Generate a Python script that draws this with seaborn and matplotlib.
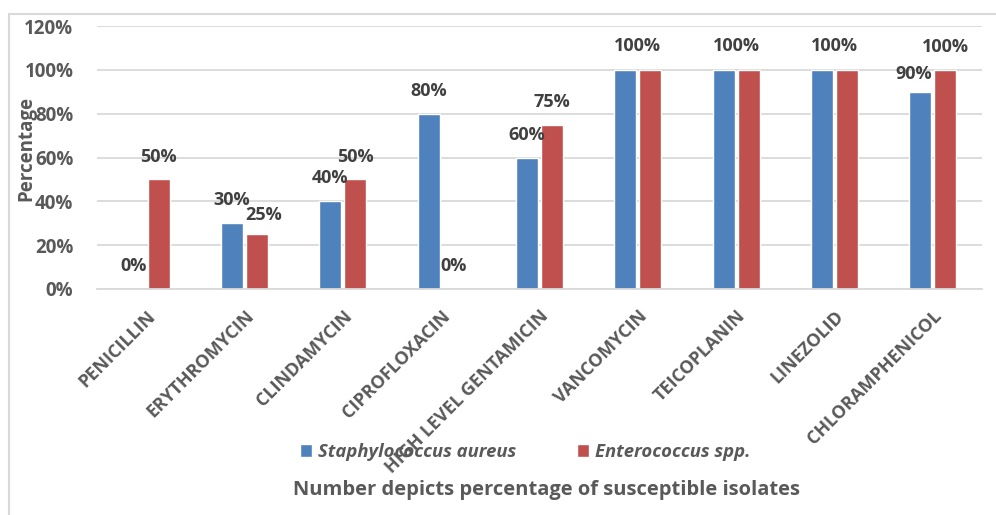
import matplotlib
matplotlib.use("Agg")
import matplotlib.pyplot as plt
from matplotlib.lines import Line2D
from matplotlib.ticker import FixedLocator
import seaborn as sns
import pandas as pd

# Susceptibility (%) per antibiotic
antibiotics = ["PENICILLIN", "ERYTHROMYCIN", "CLINDAMYCIN", "CIPROFLOXACIN",
               "HIGH LEVEL GENTAMICIN", "VANCOMYCIN", "TEICOPLANIN",
               "LINEZOLID", "CHLORAMPHENICOL"]
staph_aureus = [0, 30, 40, 80, 60, 100, 100, 100, 90]
enterococcus = [50, 25, 50, 0, 75, 100, 100, 100, 100]
organisms = ["Staphylococcus aureus", "Enterococcus spp."]
y_ticks = [0, 20, 40, 60, 80, 100, 120]

BLUE = "#4F81BD"
RED = "#C0504D"
TEXT = "#595959"
LABEL = "#404040"
GRID = "#D9D9D9"

# hand-placed value labels (series index, category index) -> offset in points
label_nudge = {(1, 1): (5, -3), (0, 8): (-5, -4)}

df = pd.DataFrame({
    "antibiotic": antibiotics * 2,
    "value": staph_aureus + enterococcus,
    "organism": [organisms[0]] * len(antibiotics) + [organisms[1]] * len(antibiotics),
})

sns.set_theme(style="white")
plt.rcParams["font.family"] = ["Open Sans", "DejaVu Sans"]

fig = plt.figure(figsize=(9.96, 5.15), dpi=100)
ax = fig.add_axes([97 / 996, 1 - 289 / 515, 885 / 996, 263 / 515])

sns.barplot(data=df, x="antibiotic", y="value", hue="organism",
            order=antibiotics, hue_order=organisms,
            palette=[BLUE, RED], width=0.51, gap=0.12,
            saturation=1, ax=ax, legend=True)

ax.set_ylim(0, 120)
ax.set_xlim(-0.5, len(antibiotics) - 0.5)
ax.yaxis.set_major_locator(FixedLocator(y_ticks))
ax.set_yticklabels([f"{t}%" for t in y_ticks])
ax.grid(axis="y", color=GRID, linewidth=1.3)
ax.set_axisbelow(True)
for side in ["top", "right", "left"]:
    ax.spines[side].set_visible(False)
ax.spines["bottom"].set_color(GRID)
ax.spines["bottom"].set_linewidth(1.3)

ax.tick_params(axis="y", length=0, pad=17, labelsize=13.5, labelcolor=TEXT)
for lab in ax.get_yticklabels():
    lab.set_fontweight("bold")

# category separators below the axis
ax.set_xticks([i - 0.5 for i in range(len(antibiotics) + 1)], minor=True)
ax.tick_params(axis="x", which="minor", length=5, color=GRID, width=1.3)
ax.tick_params(axis="x", which="major", length=0, pad=13, labelsize=13,
               labelcolor=TEXT)
ax.set_xticks(range(len(antibiotics)))
ax.set_xticklabels(antibiotics, rotation=45, ha="right",
                   rotation_mode="anchor", fontweight="bold")

# value labels above each bar; a shared label when both bars are equal
bar_groups = [c for c in ax.containers]
for i in range(len(antibiotics)):
    a, b = staph_aureus[i], enterococcus[i]
    pa = bar_groups[0][i]
    pb = bar_groups[1][i]
    if a == b:
        x = (pa.get_x() + pb.get_x() + pb.get_width()) / 2
        ax.annotate(f"{b}%", (x, b), xytext=(0, 17), textcoords="offset points",
                    ha="center", va="center", fontsize=13, fontweight="bold",
                    color=LABEL)
        continue
    for s, (patch, v) in enumerate(((pa, a), (pb, b))):
        dx, dy = label_nudge.get((s, i), (0, 0))
        x = patch.get_x() + patch.get_width() / 2
        ax.annotate(f"{v}%", (x, v), xytext=(dx, 16.5 + dy), textcoords="offset points",
                    ha="center", va="center", fontsize=13, fontweight="bold",
                    color=LABEL)

ax.set_xlabel("")
ax.set_ylabel("Percentage", fontsize=13.5, fontweight="bold", color=TEXT)
ax.yaxis.set_label_coords(-0.069, 0.536)

handles, labels = ax.get_legend_handles_labels()
ax.get_legend().remove()
fig.legend(handles, labels, loc="center", bbox_to_anchor=(525 / 996, 1 - 452 / 515),
           ncol=2, frameon=False, handlelength=0.65, handleheight=0.65,
           handletextpad=0.32, columnspacing=3.3,
           prop={"style": "italic", "weight": "bold", "size": 13.3})
for t in fig.legends[0].get_texts():
    t.set_color(TEXT)

fig.text(546 / 996, 1 - 490 / 515, "Number depicts percentage of susceptible isolates",
         ha="center", va="center", fontsize=14.5, fontweight="bold", color=TEXT)

# chart frame
fig.add_artist(Line2D([9 / 996, 9 / 996], [0, 1 - 14 / 515], transform=fig.transFigure,
                      color=GRID, linewidth=1.5))
fig.add_artist(Line2D([9 / 996, 1], [1 - 14 / 515, 1 - 14 / 515], transform=fig.transFigure,
                      color=GRID, linewidth=1.5))

fig.savefig("out.png", dpi=100, facecolor="white")
